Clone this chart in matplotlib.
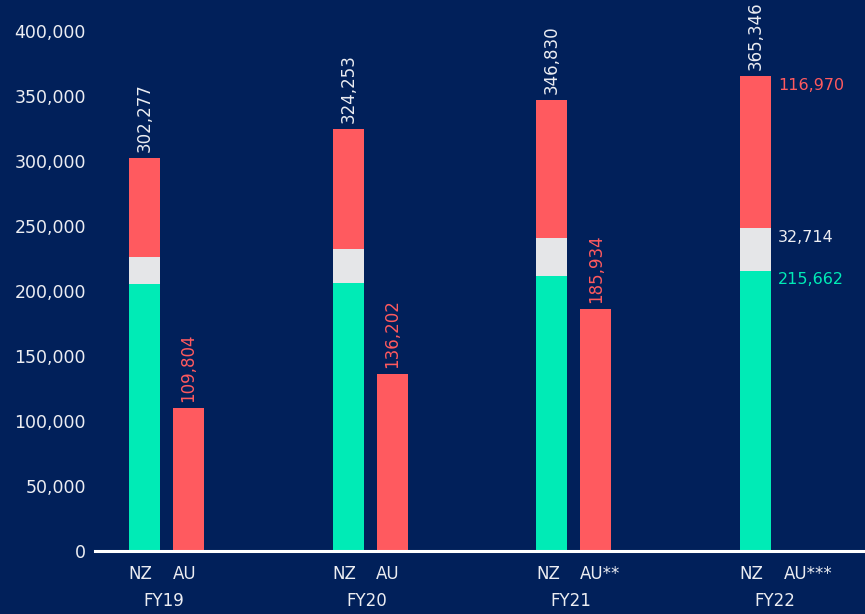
import matplotlib
matplotlib.use("Agg")
import matplotlib.pyplot as plt
import matplotlib.transforms as mtransforms
import numpy as np

# Fiscal years and per-country labels
years = ["FY19", "FY20", "FY21", "FY22"]
nz_labels = ["NZ", "NZ", "NZ", "NZ"]
au_labels = ["AU", "AU", "AU**", "AU***"]

# NZ stacked components
nz_green = [205000, 206100, 211500, 215662]
nz_grey = [21500, 26100, 29200, 32714]
nz_red = [75777, 92053, 106130, 116970]
nz_total = [302277, 324253, 346830, 365346]

# AU totals (no figure for FY22)
au_total = [109804, 136202, 185934, None]

BG = "#01205A"
GREEN = "#00EBB6"
GREY = "#E5E6E8"
RED = "#FF5A5F"
TXT = "#ECEDF2"

plt.rcParams["font.family"] = ["DejaVu Sans"]

fig = plt.figure(figsize=(8.65, 6.14), dpi=100, facecolor=BG)
ax = fig.add_axes([95 / 865, 63 / 614, 770 / 865, 520 / 614], facecolor=BG)

x = np.arange(len(years))
off = 0.108
w = 0.152
x_nz = x - off
x_au = x + off

ax.bar(x_nz, nz_green, w, color=GREEN, linewidth=0)
ax.bar(x_nz, nz_grey, w, bottom=nz_green, color=GREY, linewidth=0)
bottom_red = np.array(nz_green) + np.array(nz_grey)
ax.bar(x_nz, nz_red, w, bottom=bottom_red, color=RED, linewidth=0)

au_x = [xi for xi, v in zip(x_au, au_total) if v is not None]
au_v = [v for v in au_total if v is not None]
ax.bar(au_x, au_v, w, color=RED, linewidth=0)

fmt = lambda v: f"{v:,}"

# Totals above NZ bars
for xi, v in zip(x_nz, nz_total):
    ax.annotate(fmt(v), (xi, v), xytext=(0, 6), textcoords="offset pixels",
                rotation=90, ha="center", va="bottom", color=TXT, fontsize=12,
                annotation_clip=False)

# Totals above AU bars
for xi, v in zip(au_x, au_v):
    ax.annotate(fmt(v), (xi, v), xytext=(0, 6), textcoords="offset pixels",
                rotation=90, ha="center", va="bottom", color=RED, fontsize=12,
                annotation_clip=False)

# Component labels beside the latest NZ bar
last = len(years) - 1
seg_tops = [nz_green[last], nz_green[last] + nz_grey[last], nz_total[last]]
seg_vals = [nz_green[last], nz_grey[last], nz_red[last]]
seg_cols = [GREEN, TXT, RED]
for top, v, c in zip(seg_tops, seg_vals, seg_cols):
    ax.annotate(fmt(v), (x_nz[last] + w / 2, top), xytext=(7, -9),
                textcoords="offset pixels", ha="left", va="center", color=c,
                fontsize=11.5)

ax.set_xlim(-0.351, 3.429)
ax.set_ylim(0, 400000)
ax.set_yticks(np.arange(0, 400001, 50000))
ax.yaxis.set_major_formatter(matplotlib.ticker.FuncFormatter(lambda v, p: f"{int(v):,}"))
ax.tick_params(axis="y", length=0, pad=6.5, colors=TXT, labelsize=12.5)
ax.set_xticks([])

# Country labels under each bar, then fiscal year below
for xi, lab in zip(x_nz, nz_labels):
    ax.annotate(lab, (xi, 0), xytext=(-4, -23), textcoords="offset pixels",
                ha="center", va="center", color=TXT, fontsize=12,
                annotation_clip=False)
for xi, lab in zip(x_au, au_labels):
    ax.annotate(lab, (xi, 0), xytext=(-16, -23), textcoords="offset pixels",
                ha="left", va="center", color=TXT, fontsize=12,
                annotation_clip=False)
for xi, yr in zip(x, years):
    ax.annotate(yr, (xi, 0), xytext=(-3, -50), textcoords="offset pixels",
                ha="center", va="center", color=TXT, fontsize=12,
                annotation_clip=False)

for s in ["top", "right", "left"]:
    ax.spines[s].set_visible(False)
ax.spines["bottom"].set_color("white")
ax.spines["bottom"].set_linewidth(2.2)

fig.savefig("out.png", dpi=100, facecolor=BG)
